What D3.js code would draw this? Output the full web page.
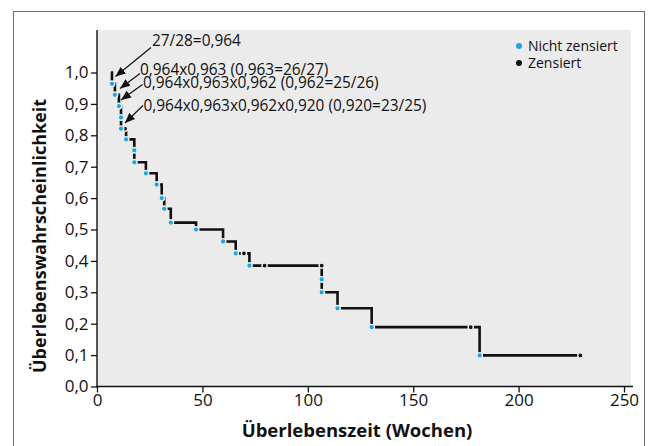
<!DOCTYPE html>
<html><head><meta charset="utf-8">
<script src="https://cdn.jsdelivr.net/npm/d3@7/dist/d3.min.js"></script>
<style>body{margin:0;background:#fff}svg{display:block}</style>
</head><body>
<script>
// ---- data ----
const startTime = 6.6;               // curve starts (S = 1)
const eventTimes = [7.1, 8.5, 10.4, 11.4, 11.4, 13.8, 17.7, 17.7, 23.2, 28.3, 30.7, 31.9, 35.0, 47.0, 59.8, 65.8, 72.3, 106.6, 106.6, 114.1, 130.3, 181.5];
const eventSurv  = [0.964, 0.929, 0.893, 0.857, 0.821, 0.787, 0.752, 0.714, 0.679, 0.643, 0.600, 0.566, 0.522, 0.500, 0.462, 0.424, 0.385, 0.341, 0.300, 0.249, 0.189, 0.099];
const censorTimes = [13.3, 69.7, 79.5, 106.6, 177.3, 229.3];
const censorSurv  = [0.821, 0.424, 0.385, 0.385, 0.189, 0.099];
const xTicks = [0, 50, 100, 150, 200, 250];
const yTicks = [0, 0.1, 0.2, 0.3, 0.4, 0.5, 0.6, 0.7, 0.8, 0.9, 1.0];
const annotations = [
  "27/28=0,964",
  "0,964x0,963 (0,963=26/27)",
  "0,964x0,963x0,962 (0,962=25/26)",
  "0,964x0,963x0,962x0,920 (0,920=23/25)"
];
const legendLabels = ["Nicht zensiert", "Zensiert"];
const xTitle = "Überlebenszeit (Wochen)";
const yTitle = "Überlebenswahrscheinlichkeit";

// ---- layout ----
const W = 653, H = 446;
const FONT = "'Open Sans', 'Noto Sans', sans-serif";
const BLUE = "#1ba6e2", BG = "#ebebeb";
const plotL = 97, plotR = 631, plotT = 30, plotB = 386.5;

const x = d3.scaleLinear().domain([0, 250]).range([plotL, 624]);
const y = d3.scaleLinear().domain([0, 1]).range([plotB, 72.5]);

const svg = d3.select("body").append("svg").attr("width", W).attr("height", H);

// outer frame
svg.append("rect").attr("x", 13.5).attr("y", 11.5).attr("width", 631).attr("height", 450)
  .attr("fill", "none").attr("stroke", "#6f6f6f").attr("stroke-width", 1);

// plot background
svg.append("rect").attr("x", plotL).attr("y", plotT).attr("width", plotR - plotL).attr("height", plotB - plotT)
  .attr("fill", BG);

// axes
const yAxis = d3.axisLeft(y).tickValues(yTicks).tickSize(6).tickSizeOuter(0)
  .tickFormat(d => d.toFixed(1).replace(".", ","));
const gy = svg.append("g").attr("transform", `translate(${plotL},0)`).call(yAxis);
gy.select(".domain").remove();
const xAxis = d3.axisBottom(x).tickValues(xTicks).tickSize(6).tickSizeOuter(0);
const gx = svg.append("g").attr("transform", `translate(0,${plotB})`).call(xAxis);
gx.select(".domain").remove();
[gx, gy].forEach(g => {
  g.selectAll(".tick line").attr("stroke", "#111").attr("stroke-width", 1.3);
  g.selectAll(".tick text").attr("font-family", FONT).attr("font-size", 17).attr("fill", "#111");
});
gy.selectAll(".tick text").attr("x", -8.5);
gx.selectAll(".tick text").attr("y", 7);
svg.append("line").attr("x1", plotL).attr("x2", plotL).attr("y1", plotT).attr("y2", plotB + 0.6)
  .attr("stroke", "#111").attr("stroke-width", 1.4);
svg.append("line").attr("x1", plotL - 0.7).attr("x2", 633).attr("y1", plotB).attr("y2", plotB)
  .attr("stroke", "#111").attr("stroke-width", 1.4);

// titles
svg.append("text").attr("x", 357).attr("y", 437).attr("text-anchor", "middle")
  .attr("font-family", FONT).attr("font-weight", "bold").attr("font-size", 18.5).attr("fill", "#111").text(xTitle);
svg.append("text").attr("transform", "translate(45.5,236) rotate(-90)").attr("text-anchor", "middle")
  .attr("font-family", FONT).attr("font-weight", "bold").attr("font-size", 18).attr("fill", "#111").text(yTitle);

// KM step line
const pts = [[startTime, 1]].concat(eventTimes.map((t, i) => [t, eventSurv[i]]));
pts.push([d3.max(censorTimes), eventSurv[eventSurv.length - 1]]);
const line = d3.line().x(d => x(d[0])).y(d => y(d[1])).curve(d3.curveStepAfter);
svg.append("path").attr("d", line(pts)).attr("fill", "none").attr("stroke", "#111")
  .attr("stroke-width", 2.6).attr("stroke-linejoin", "miter").attr("stroke-linecap", "butt");

// markers
svg.append("g").selectAll("circle").data(censorTimes.map((t, i) => [t, censorSurv[i]])).join("circle")
  .attr("cx", d => x(d[0])).attr("cy", d => y(d[1])).attr("r", 2.6)
  .attr("fill", "#111").attr("stroke", BG).attr("stroke-width", 1.4);
svg.append("g").selectAll("circle").data(eventTimes.map((t, i) => [t, eventSurv[i]])).join("circle")
  .attr("cx", d => x(d[0])).attr("cy", d => y(d[1])).attr("r", 2.8)
  .attr("fill", BLUE).attr("stroke", BG).attr("stroke-width", 1.4);

// annotations
const annPos = [[152, 46], [140, 74.5], [143, 88], [143.5, 111]];
const arrows = [[[151, 47.5], [115.5, 76.5]], [[140, 73.5], [120, 88.5]], [[142.5, 84.5], [121, 100]], [[143, 105.5], [125, 123]]];
annotations.forEach((s, i) => {
  svg.append("text").attr("x", annPos[i][0]).attr("y", annPos[i][1])
    .attr("font-family", FONT).attr("font-size", 15.4).attr("fill", "#111").text(s);
});
svg.append("defs").append("marker").attr("id", "ah").attr("viewBox", "0 0 10 10")
  .attr("refX", 10).attr("refY", 5).attr("markerWidth", 10).attr("markerHeight", 10)
  .attr("markerUnits", "userSpaceOnUse").attr("orient", "auto")
  .append("path").attr("d", "M0,0.8 L10,5 L0,9.2 Z").attr("fill", "#111");
arrows.forEach(a => {
  svg.append("line").attr("x1", a[0][0]).attr("y1", a[0][1]).attr("x2", a[1][0]).attr("y2", a[1][1])
    .attr("stroke", "#111").attr("stroke-width", 1.2).attr("marker-end", "url(#ah)");
});

// legend
const legColors = [BLUE, "#111"];
legendLabels.forEach((s, i) => {
  const ly = 46 + i * 17;
  svg.append("circle").attr("cx", 519).attr("cy", ly).attr("r", 3).attr("fill", legColors[i]);
  svg.append("text").attr("x", 528).attr("y", ly).attr("dy", "0.35em")
    .attr("font-family", FONT).attr("font-size", 14).attr("fill", "#111").text(s);
});
</script>
</body></html>
